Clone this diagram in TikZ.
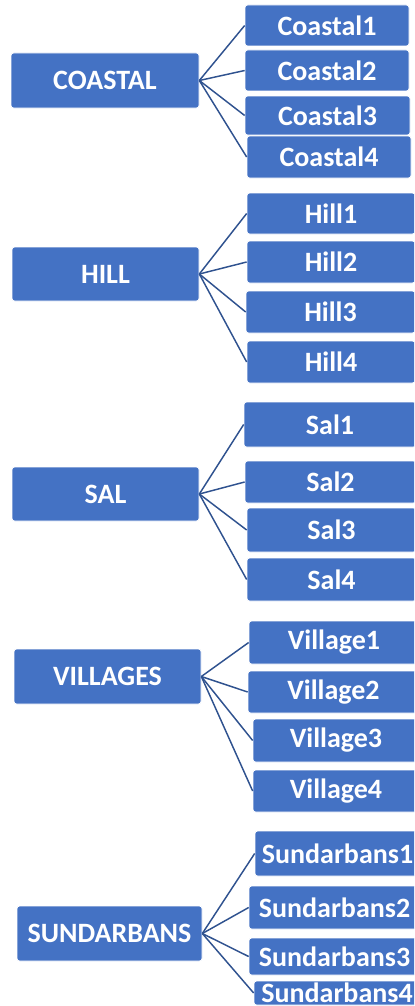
\documentclass[tikz,border=0pt]{standalone}
\usepackage{fontspec}
\setmainfont{Carlito}
\usepackage{tikz}
\definecolor{boxblue}{HTML}{4472C4}
\definecolor{lineblue}{HTML}{2F528F}

\begin{document}
\begin{tikzpicture}[x=0.75pt,y=-0.75pt,
  box/.style={fill=boxblue,draw=white,line width=0.5pt,rounded corners=2pt,
    text=white,font=\fontsize{21}{25}\selectfont\bfseries,inner sep=0pt},
  link/.style={draw=lineblue,line width=1.1pt}]
  \useasboundingbox (0,0) rectangle (414,1006);
  \clip (0,0) rectangle (414,1006);
  \foreach \n/\xa/\ya/\xb/\yb/\txt in {
      coastal/11/53/199/108/COASTAL, hill/12/247/199/301/HILL,
      sal/12/467/199/521/SAL, villages/14/649/201/704/VILLAGES,
      sundarbans/17/906/202/961/SUNDARBANS,
      coastal1/245/5/409/46/Coastal1, coastal2/245/50/409/91/Coastal2,
      coastal3/245/96/410/135/Coastal3, coastal4/247/136/411/178/Coastal4,
      hill1/247/193/415/234/Hill1, hill2/247/241/415/283/Hill2,
      hill3/246/291/415/333/Hill3, hill4/247/341/415/383/Hill4,
      sal1/244/402/416/447/Sal1, sal2/245/461/416/503/Sal2,
      sal3/247/508/416/552/Sal3, sal4/247/558/416/601/Sal4,
      village1/249/621/419/664/Village1, village2/248/671/419/713/Village2,
      village3/253/719/419/762/Village3, village4/253/770/419/812/Village4,
      sundarbans1/255/831/420/876/Sundarbans1, sundarbans2/249/886/420/929/Sundarbans2,
      sundarbans3/249/938/420/975/Sundarbans3, sundarbans4/254/981/420/1005/Sundarbans4}
    \node[box,minimum width={(\xb-\xa)*0.75pt},minimum height={(\yb-\ya)*0.75pt}]
      (\n) at ({(\xa+\xb)/2},{(\ya+\yb)/2}) {\txt};
  \foreach \p/\c in {coastal/coastal,hill/hill,sal/sal,villages/village,sundarbans/sundarbans}
    \foreach \i in {1,...,4}
      \draw[link] (\p.east) -- (\c\i.west);
\end{tikzpicture}
\end{document}
